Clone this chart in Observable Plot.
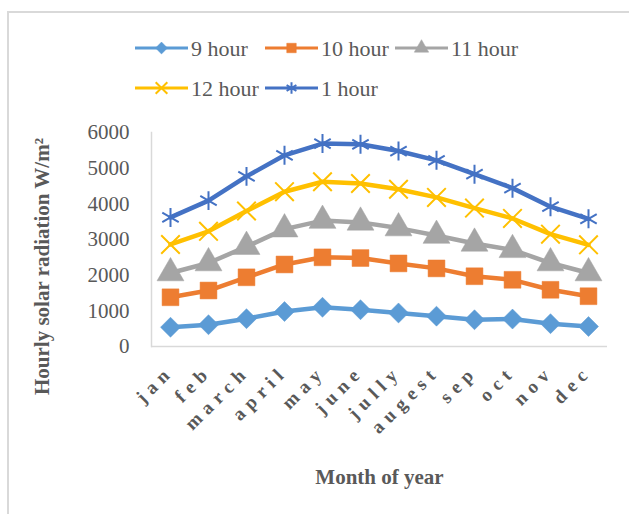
<!DOCTYPE html>
<html>
<head>
<meta charset="utf-8">
<script src="https://cdn.jsdelivr.net/npm/d3@7"></script>
<script src="https://cdn.jsdelivr.net/npm/@observablehq/plot@0.6"></script>
<style>
  html, body { margin: 0; padding: 0; background: #fff; }
  #wrap { position: relative; width: 629px; height: 514px; overflow: hidden; font-family: "Liberation Serif", "Times New Roman", serif; }
  #wrap svg, #wrap svg text { font-family: "Liberation Serif", "Times New Roman", serif !important; }
  #border { position: absolute; left: 7px; top: 11px; right: -5px; bottom: -5px; border-left: 2px solid #d9d9d9; border-top: 2px solid #d9d9d9; }
  #chart { position: absolute; left: 0; top: 0; }
  #legend { position: absolute; left: 0; top: 0; }
  #chart g[aria-label="x-axis tick label"] text { letter-spacing: 6px; }
</style>
</head>
<body>
<div id="wrap">
  <div id="border"></div>
  <div id="chart"></div>
  <svg id="legend" width="629" height="110"></svg>
</div>
<script>
const months = ["jan","feb","march","april","may","june","jully","augest","sep","oct","nov","dec"];
const seriesNames = ["9 hour","10 hour","11 hour","12 hour","1 hour"];
const colors = ["#5B9BD5","#ED7D31","#A5A5A5","#FFC000","#4472C4"];
const symbols = ["diamond2","square","triangle","times","asterisk"];
const hour9  = [540, 610, 780, 980, 1100, 1030, 940, 850, 750, 770, 640, 560];
const hour10 = [1380, 1570, 1940, 2300, 2500, 2480, 2330, 2190, 1970, 1870, 1590, 1410];
const hour11 = [2060, 2340, 2800, 3290, 3530, 3480, 3320, 3110, 2890, 2710, 2340, 2060];
const hour12 = [2860, 3230, 3800, 4340, 4620, 4570, 4410, 4180, 3880, 3590, 3150, 2850];
const hour1  = [3620, 4090, 4770, 5360, 5690, 5670, 5480, 5220, 4830, 4440, 3920, 3580];
const yTicks = [0, 1000, 2000, 3000, 4000, 5000, 6000];
const yLabel = "Hourly solar radiation W/m²";
const xLabel = "Month of year";

const seriesValues = [hour9, hour10, hour11, hour12, hour1];
const data = [];
seriesNames.forEach((s, i) => months.forEach((m, j) => data.push({series: s, month: m, value: seriesValues[i][j]})));

const font = '"Liberation Serif", "Times New Roman", serif';
const sym = {"diamond2": 9, "square": 9.5, "triangle": 10, "times": 8.5, "asterisk": 9};

const marks = [
  Plot.ruleY([0], {stroke: "#d9d9d9", strokeWidth: 1.5}),
  Plot.frame({anchor: "left", stroke: "#d9d9d9", strokeWidth: 1.5}),
  Plot.axisY({ticks: yTicks, tickSize: 0, tickPadding: 22, fontSize: 21, fontFamily: font, color: "#595959", label: null, tickFormat: d => String(d)}),
  Plot.axisX({tickSize: 0, tickRotate: -45, tickPadding: 22, fontSize: 19, fontWeight: "bold", fontFamily: font, color: "#595959", label: null}),
  Plot.line(data, {x: "month", y: "value", z: "series", stroke: "series", strokeWidth: 4.5})
];
seriesNames.forEach((s, i) => {
  const filled = !(symbols[i] === "times" || symbols[i] === "asterisk");
  marks.push(Plot.dot(data.filter(d => d.series === s), {
    x: "month", y: "value", symbol: () => symbols[i], r: sym[symbols[i]],
    fill: filled ? colors[i] : "none", stroke: colors[i], strokeWidth: filled ? 0.5 : 2
  }));
});
marks.push(Plot.text([yLabel], {frameAnchor: "left", textAnchor: "middle", lineAnchor: "middle", dx: -109, dy: 27, rotate: -90, fontSize: 21, fontWeight: "bold", fontFamily: font, fill: "#595959"}));
marks.push(Plot.text([xLabel], {frameAnchor: "bottom", textAnchor: "middle", lineAnchor: "middle", dy: 131, fontSize: 21, fontWeight: "bold", fontFamily: font, fill: "#595959"}));

const chart = Plot.plot({
  width: 629, height: 514,
  marginLeft: 151, marginRight: 22, marginTop: 132, marginBottom: 168,
  style: {background: "transparent", fontFamily: font},
  x: {type: "point", domain: months, padding: 0.5},
  y: {domain: [0, 6000]},
  color: {domain: seriesNames, range: colors},
  symbol: {domain: symbols, range: symbols},
  marks
});
document.getElementById("chart").appendChild(chart);

// legend
const legend = d3.select("#legend");
const pos = [[135, 48], [265, 48], [395, 48], [135, 88], [265, 88]];
seriesNames.forEach((s, i) => {
  const [x, y] = pos[i];
  const g = legend.append("g").attr("transform", `translate(${x},${y})`);
  g.append("line").attr("x1", 0).attr("x2", 53).attr("y1", 0).attr("y2", 0).attr("stroke", colors[i]).attr("stroke-width", 3);
  const filled = !(symbols[i] === "times" || symbols[i] === "asterisk");
  const symType = {diamond2: d3.symbolDiamond2, square: d3.symbolSquare, triangle: d3.symbolTriangle, times: d3.symbolTimes, asterisk: d3.symbolAsterisk}[symbols[i]];
  g.append("path").attr("transform", "translate(26.5,0)").attr("d", d3.symbol(symType, 90)())
    .attr("fill", filled ? colors[i] : "none").attr("stroke", colors[i]).attr("stroke-width", filled ? 0.5 : 2);
  g.append("text").attr("x", 56).attr("y", 0).attr("dy", "0.35em").attr("font-size", 22).attr("font-family", font).attr("fill", "#595959").text(s);
});
</script>
</body>
</html>
